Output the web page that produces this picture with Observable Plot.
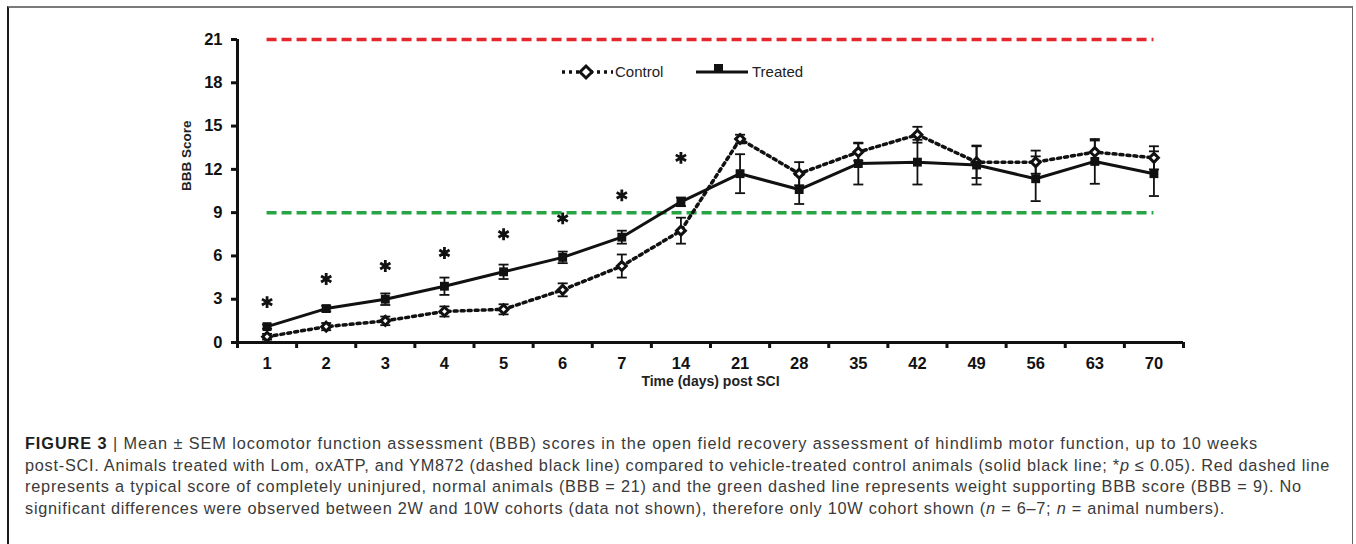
<!DOCTYPE html>
<html>
<head>
<meta charset="utf-8">
<script src="https://cdn.jsdelivr.net/npm/d3@7"></script>
<script src="https://cdn.jsdelivr.net/npm/@observablehq/plot@0.6"></script>
<style>
  html, body { margin: 0; padding: 0; background: #fff; }
  body { width: 1356px; height: 544px; position: relative; overflow: hidden; font-family: "Liberation Sans", Arial, sans-serif; }
  #frame { position: absolute; left: 7px; top: 6px; width: 1343px; height: 600px;
           border-top: 2px solid #7a7a7a; border-left: 2px solid #1a1a1a; border-right: 1.5px solid #666; }
  #chart { position: absolute; left: 0; top: 0; }
  #legend { position: absolute; left: 0; top: 0; pointer-events: none; }
  #caption { position: absolute; left: 25px; top: 433px; font-size: 16.3px; line-height: 21.6px; color: #3a3a3a; white-space: nowrap; }
  #caption .line { display: inline-block; }
  #caption b { color: #1e1e1e; }
</style>
</head>
<body>
<div id="frame"></div>
<div id="chart"></div>
<svg id="legend" width="1356" height="120"></svg>
<div id="caption">
  <span class="line"><b>FIGURE 3</b> | Mean ± SEM locomotor function assessment (BBB) scores in the open field recovery assessment of hindlimb motor function, up to 10 weeks</span><br>
  <span class="line">post-SCI. Animals treated with Lom, oxATP, and YM872 (dashed black line) compared to vehicle-treated control animals (solid black line; *<i>p</i> ≤ 0.05). Red dashed line</span><br>
  <span class="line">represents a typical score of completely uninjured, normal animals (BBB = 21) and the green dashed line represents weight supporting BBB score (BBB = 9). No</span><br>
  <span class="line">significant differences were observed between 2W and 10W cohorts (data not shown), therefore only 10W cohort shown (<i>n</i> = 6–7; <i>n</i> = animal numbers).</span>
</div>
<script>
// ---- data ----
const days = ["1","2","3","4","5","6","7","14","21","28","35","42","49","56","63","70"];
const controlMean = [0.4, 1.1, 1.5, 2.15, 2.3, 3.65, 5.3, 7.75, 14.1, 11.7, 13.2, 14.4, 12.5, 12.5, 13.2, 12.8];
const controlSEM  = [0.2, 0.25, 0.3, 0.35, 0.35, 0.45, 0.8, 0.9, 0.3, 0.8, 0.6, 0.55, 1.1, 0.8, 0.8, 0.8];
const treatedMean = [1.1, 2.35, 3.0, 3.9, 4.9, 5.9, 7.3, 9.75, 11.7, 10.6, 12.4, 12.5, 12.3, 11.35, 12.55, 11.7];
const treatedSEM  = [0.15, 0.2, 0.4, 0.6, 0.5, 0.4, 0.45, 0.3, 1.35, 1.0, 1.45, 1.55, 1.35, 1.55, 1.55, 1.55];
const starDays = ["1","2","3","4","5","6","7","14"];
const starY = [2.8, 4.4, 5.3, 6.2, 7.5, 8.6, 10.2, 12.8];
const yTicks = [0, 3, 6, 9, 12, 15, 18, 21];
const normalScore = 21;
const weightSupportScore = 9;

// ---- build tables ----
const pos = d => days.indexOf(d) + 1;
const control = days.map((d, i) => ({x: i + 1, y: controlMean[i], lo: controlMean[i] - controlSEM[i], hi: controlMean[i] + controlSEM[i]}));
const treated = days.map((d, i) => ({x: i + 1, y: treatedMean[i], lo: treatedMean[i] - treatedSEM[i], hi: treatedMean[i] + treatedSEM[i]}));
const stars = starDays.map((d, i) => ({x: pos(d), y: starY[i]}));
const centers = days.map((d, i) => i + 1);
const bounds = d3.range(0, days.length + 1).map(i => i + 0.5);
const firstX = 1, lastX = days.length;

const cap = {draw(ctx) { ctx.moveTo(-5, 0); ctx.lineTo(5, 0); }};
const RED = "#e5262c", GREEN = "#27a443";
const tickFont = {fontSize: 16.5, fontWeight: "bold"};

const chart = Plot.plot({
  width: 1356,
  height: 400,
  marginLeft: 237,
  marginRight: 173,
  marginTop: 39,
  marginBottom: 58,
  style: {fontFamily: "'Liberation Sans', Arial, sans-serif", color: "#111", background: "transparent", overflow: "visible"},
  x: {type: "linear", domain: [0.5, days.length + 0.5], axis: null},
  y: {domain: [0, 21], axis: null},
  marks: [
    Plot.ruleY([normalScore], {x1: firstX, x2: lastX, stroke: RED, strokeWidth: 3.5, strokeDasharray: "10,5"}),
    Plot.ruleY([weightSupportScore], {x1: firstX, x2: lastX, stroke: GREEN, strokeWidth: 3.5, strokeDasharray: "10,5"}),
    // error bars
    Plot.ruleX(treated, {x: "x", y1: "lo", y2: "hi", stroke: "#111", strokeWidth: 1.8}),
    Plot.dot(treated, {x: "x", y: "lo", symbol: cap, stroke: "#111", strokeWidth: 1.8}),
    Plot.dot(treated, {x: "x", y: "hi", symbol: cap, stroke: "#111", strokeWidth: 1.8}),
    Plot.ruleX(control, {x: "x", y1: "lo", y2: "hi", stroke: "#111", strokeWidth: 1.8}),
    Plot.dot(control, {x: "x", y: "lo", symbol: cap, stroke: "#111", strokeWidth: 1.8}),
    Plot.dot(control, {x: "x", y: "hi", symbol: cap, stroke: "#111", strokeWidth: 1.8}),
    // lines
    Plot.line(control, {x: "x", y: "y", stroke: "#111", strokeWidth: 3.5, strokeDasharray: "3,4"}),
    Plot.line(treated, {x: "x", y: "y", stroke: "#111", strokeWidth: 3}),
    // markers
    Plot.dot(control, {x: "x", y: "y", symbol: "diamond2", r: 4, fill: "white", stroke: "#111", strokeWidth: 3}),
    Plot.dot(treated, {x: "x", y: "y", symbol: "square", r: 5, fill: "#111", stroke: "none"}),
    // significance stars
    Plot.dot(stars, {x: "x", y: "y", symbol: "asterisk", r: 5.6, stroke: "#111", strokeWidth: 2.8}),
    // axes
    Plot.axisY({ticks: yTicks, tickSize: 6, tickPadding: 9, strokeWidth: 3, label: null, ...tickFont}),
    Plot.axisX({ticks: centers, tickSize: 0, tickPadding: 15, tickFormat: i => days[i - 1], label: null, ...tickFont}),
    Plot.axisX({ticks: bounds, tickSize: 6, tickFormat: () => "", strokeWidth: 3, label: null}),
    Plot.ruleY([0], {stroke: "#111", strokeWidth: 3}),
    Plot.ruleX([0.5], {y1: 0, y2: 21, stroke: "#111", strokeWidth: 3}),
    // axis titles
    Plot.text(["Time (days) post SCI"], {frameAnchor: "bottom", dy: 43, fontSize: 14, fontWeight: "bold", fill: "#222"}),
    Plot.text(["BBB Score"], {frameAnchor: "left", dx: -51, rotate: -90, fontSize: 13.5, fontWeight: "bold", fill: "#222"})
  ]
});
document.getElementById("chart").appendChild(chart);

// ---- legend ----
const lg = d3.select("#legend");
const ly = 72;
lg.append("line").attr("x1", 562).attr("x2", 613).attr("y1", ly).attr("y2", ly)
  .attr("stroke", "#111").attr("stroke-width", 3.5).attr("stroke-dasharray", "3,4");
lg.append("path").attr("d", `M586,${ly-6}L592,${ly}L586,${ly+6}L580,${ly}Z`)
  .attr("fill", "white").attr("stroke", "#111").attr("stroke-width", 3);
lg.append("text").attr("x", 615).attr("y", ly).attr("dy", "0.35em").attr("font-size", 15)
  .attr("font-family", "'Liberation Sans', Arial, sans-serif").attr("fill", "#222").text("Control");
lg.append("line").attr("x1", 696).attr("x2", 748).attr("y1", ly).attr("y2", ly)
  .attr("stroke", "#111").attr("stroke-width", 3);
lg.append("rect").attr("x", 714).attr("y", ly - 8).attr("width", 9).attr("height", 9).attr("fill", "#111");
lg.append("text").attr("x", 752).attr("y", ly).attr("dy", "0.35em").attr("font-size", 15)
  .attr("font-family", "'Liberation Sans', Arial, sans-serif").attr("fill", "#222").text("Treated");

// ---- fit caption lines to the reference line ends ----
const lineEnds = [1258, 1330, 1302, 1225];
document.querySelectorAll("#caption .line").forEach((el, i) => {
  const r = el.getBoundingClientRect();
  const n = el.textContent.length;
  el.style.letterSpacing = ((lineEnds[i] - r.right) / n).toFixed(3) + "px";
});
</script>
</body>
</html>
